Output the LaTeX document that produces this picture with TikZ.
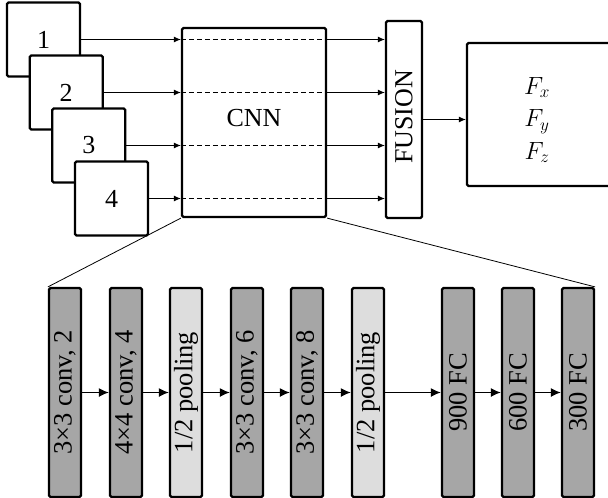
\documentclass[tikz,border=0pt]{standalone}
\usepackage{fontspec}
\setmainfont{Liberation Serif}
\usetikzlibrary{arrows.meta}
\definecolor{dkgray}{RGB}{166,166,166}
\definecolor{ltgray}{RGB}{221,221,221}
\begin{document}
\begin{tikzpicture}[x=1pt,y=-1pt,
  font=\fontsize{26}{32.5}\selectfont,
  box/.style={draw, line width=2.2pt, rounded corners=1.5pt, fill=white, inner sep=0pt},
  frame/.style={box, minimum width=73pt, minimum height=74pt},
  layer/.style={box, minimum width=32pt, minimum height=209pt, fill=dkgray, font=\fontsize{26.5}{32}\selectfont},
  pool/.style={layer, fill=ltgray},
  arr/.style={-{Latex[length=7pt,width=6pt]}, line width=1pt},
  arrb/.style={-{Latex[length=10pt,width=9pt]}, line width=1.4pt},
  dash line/.style={line width=0.8pt, dash pattern=on 5pt off 3pt},
  funnel/.style={line width=0.8pt}]
\path[use as bounding box] (0,0) rectangle (608,498);

% input frames
\node[frame] (i1) at (43.5,39.5) {1};
\node[frame] (i2) at (66.2,92.5) {2};
\node[frame] (i3) at (88.8,145.5) {3};
\node[frame] (i4) at (111.5,198.5) {4};

% CNN
\node[box, minimum width=144pt, minimum height=189pt] (cnn) at (254,122.5) {};
\node (cnnlabel) at (254,118) {CNN};

% FUSION
\node[box, minimum width=36pt, minimum height=197pt] (fus) at (404,119.5) {};
\node[rotate=90] (fuslabel) at (404,117) {FUSION};

% output
\node[box, minimum width=143pt, minimum height=143pt] (out) at (538.5,114.5) {};
\node[align=center] (outlabel) at (537,120) {$F_x$\\$F_y$\\$F_z$};

\foreach \i in {1,2,3,4}{
  \coordinate (a\i) at (cnn.west |- i\i.east);
  \coordinate (b\i) at (cnn.east |- i\i.east);
  \coordinate (c\i) at (fus.west |- i\i.east);
  \draw[arr] (i\i.east) -- (a\i);
  \draw[dash line] (a\i) -- (b\i);
  \draw[arr] (b\i) -- (c\i);
}
\draw[arr] (fus.east) -- (fus.east -| out.west);

% layers
\node[layer] (L1) at (65,392.5) {\rotatebox{90}{3×3 conv, 2}};
\node[layer] (L2) at (126,392.5) {\rotatebox{90}{4×4 conv, 4}};
\node[pool]  (L3) at (186,392.5) {\rotatebox{90}{1/2 pooling}};
\node[layer] (L4) at (247,392.5) {\rotatebox{90}{3×3 conv, 6}};
\node[layer] (L5) at (307,392.5) {\rotatebox{90}{3×3 conv, 8}};
\node[pool]  (L6) at (368,392.5) {\rotatebox{90}{1/2 pooling}};
\node[layer] (L7) at (458,392.5) {\rotatebox{90}{900 FC}};
\node[layer] (L8) at (518,392.5) {\rotatebox{90}{600 FC}};
\node[layer] (L9) at (578,392.5) {\rotatebox{90}{300 FC}};

\foreach \p/\q in {L1/L2,L2/L3,L3/L4,L4/L5,L5/L6,L6/L7,L7/L8,L8/L9}
  \draw[arrb] (\p.east) -- (\q.west);

\draw[funnel] (cnn.south west) -- (L1.north west);
\draw[funnel] (cnn.south east) -- (L9.north east);
\end{tikzpicture}
\end{document}
